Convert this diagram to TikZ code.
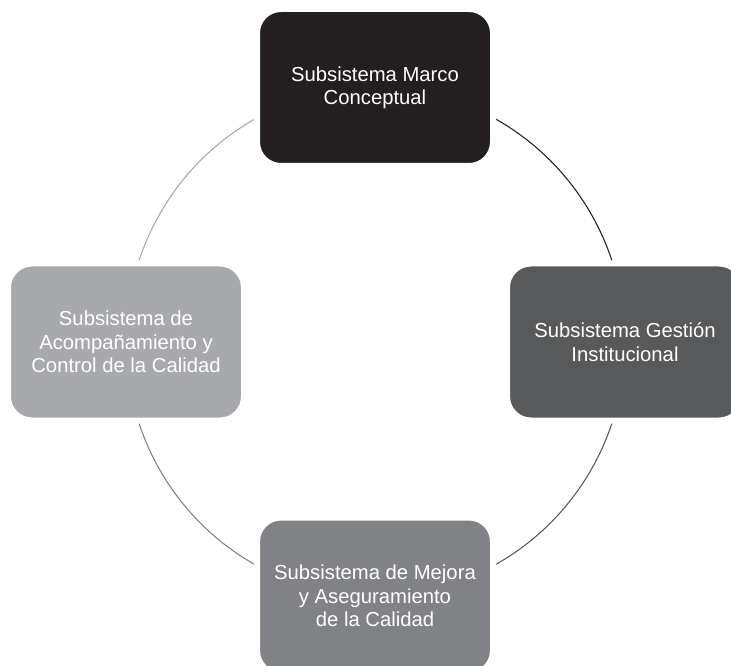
\documentclass[tikz,border=0pt]{standalone}
\usepackage{fontspec}
\setsansfont{Liberation Sans}
\usepackage{xcolor}
\usetikzlibrary{positioning,backgrounds}

\definecolor{marcoC}{HTML}{231F20}
\definecolor{gestionC}{HTML}{58595B}
\definecolor{mejoraC}{HTML}{808285}
\definecolor{acompC}{HTML}{A7A9AC}

\begin{document}
\begin{tikzpicture}[
  x=0.75pt, y=-0.75pt,
  font=\sffamily\fontsize{15.2}{17.5}\selectfont,
  box/.style={rounded corners=18pt, draw=white, line width=4.5pt, text=white, align=center,
    minimum width=177pt, minimum height=117.75pt, inner sep=0pt},
  ring/.style={line width=0.8pt},
]
\useasboundingbox (0,0) rectangle (731,666);

% --- Subsystems ---
\node[box, fill=marcoC] (marco) at (375,87.5) {Subsistema Marco\\Conceptual};
\node[box, fill=gestionC] (gestion) at (625,342) {Subsistema Gesti\'on\\Institucional};
\node[box, fill=mejoraC] (mejora) at (375,596) {Subsistema de Mejora\\y Aseguramiento\\de la Calidad};
\node[box, fill=acompC] (acomp) at (126,342) {Subsistema de\\Acompa\~namiento y\\Control de la Calidad};

% --- Ring between subsystems ---
\begin{scope}[on background layer]
\draw[ring, draw=marcoC] (marco.center) arc[start angle=270, end angle=360, x radius=250, y radius=254.5];
\draw[ring, draw=gestionC] (gestion.center) arc[start angle=0, end angle=90, x radius=250, y radius=254];
\draw[ring, draw=mejoraC] (mejora.center) arc[start angle=90, end angle=180, x radius=249, y radius=254];
\draw[ring, draw=acompC] (acomp.center) arc[start angle=180, end angle=270, x radius=249, y radius=254.5];
\end{scope}

\end{tikzpicture}
\end{document}
